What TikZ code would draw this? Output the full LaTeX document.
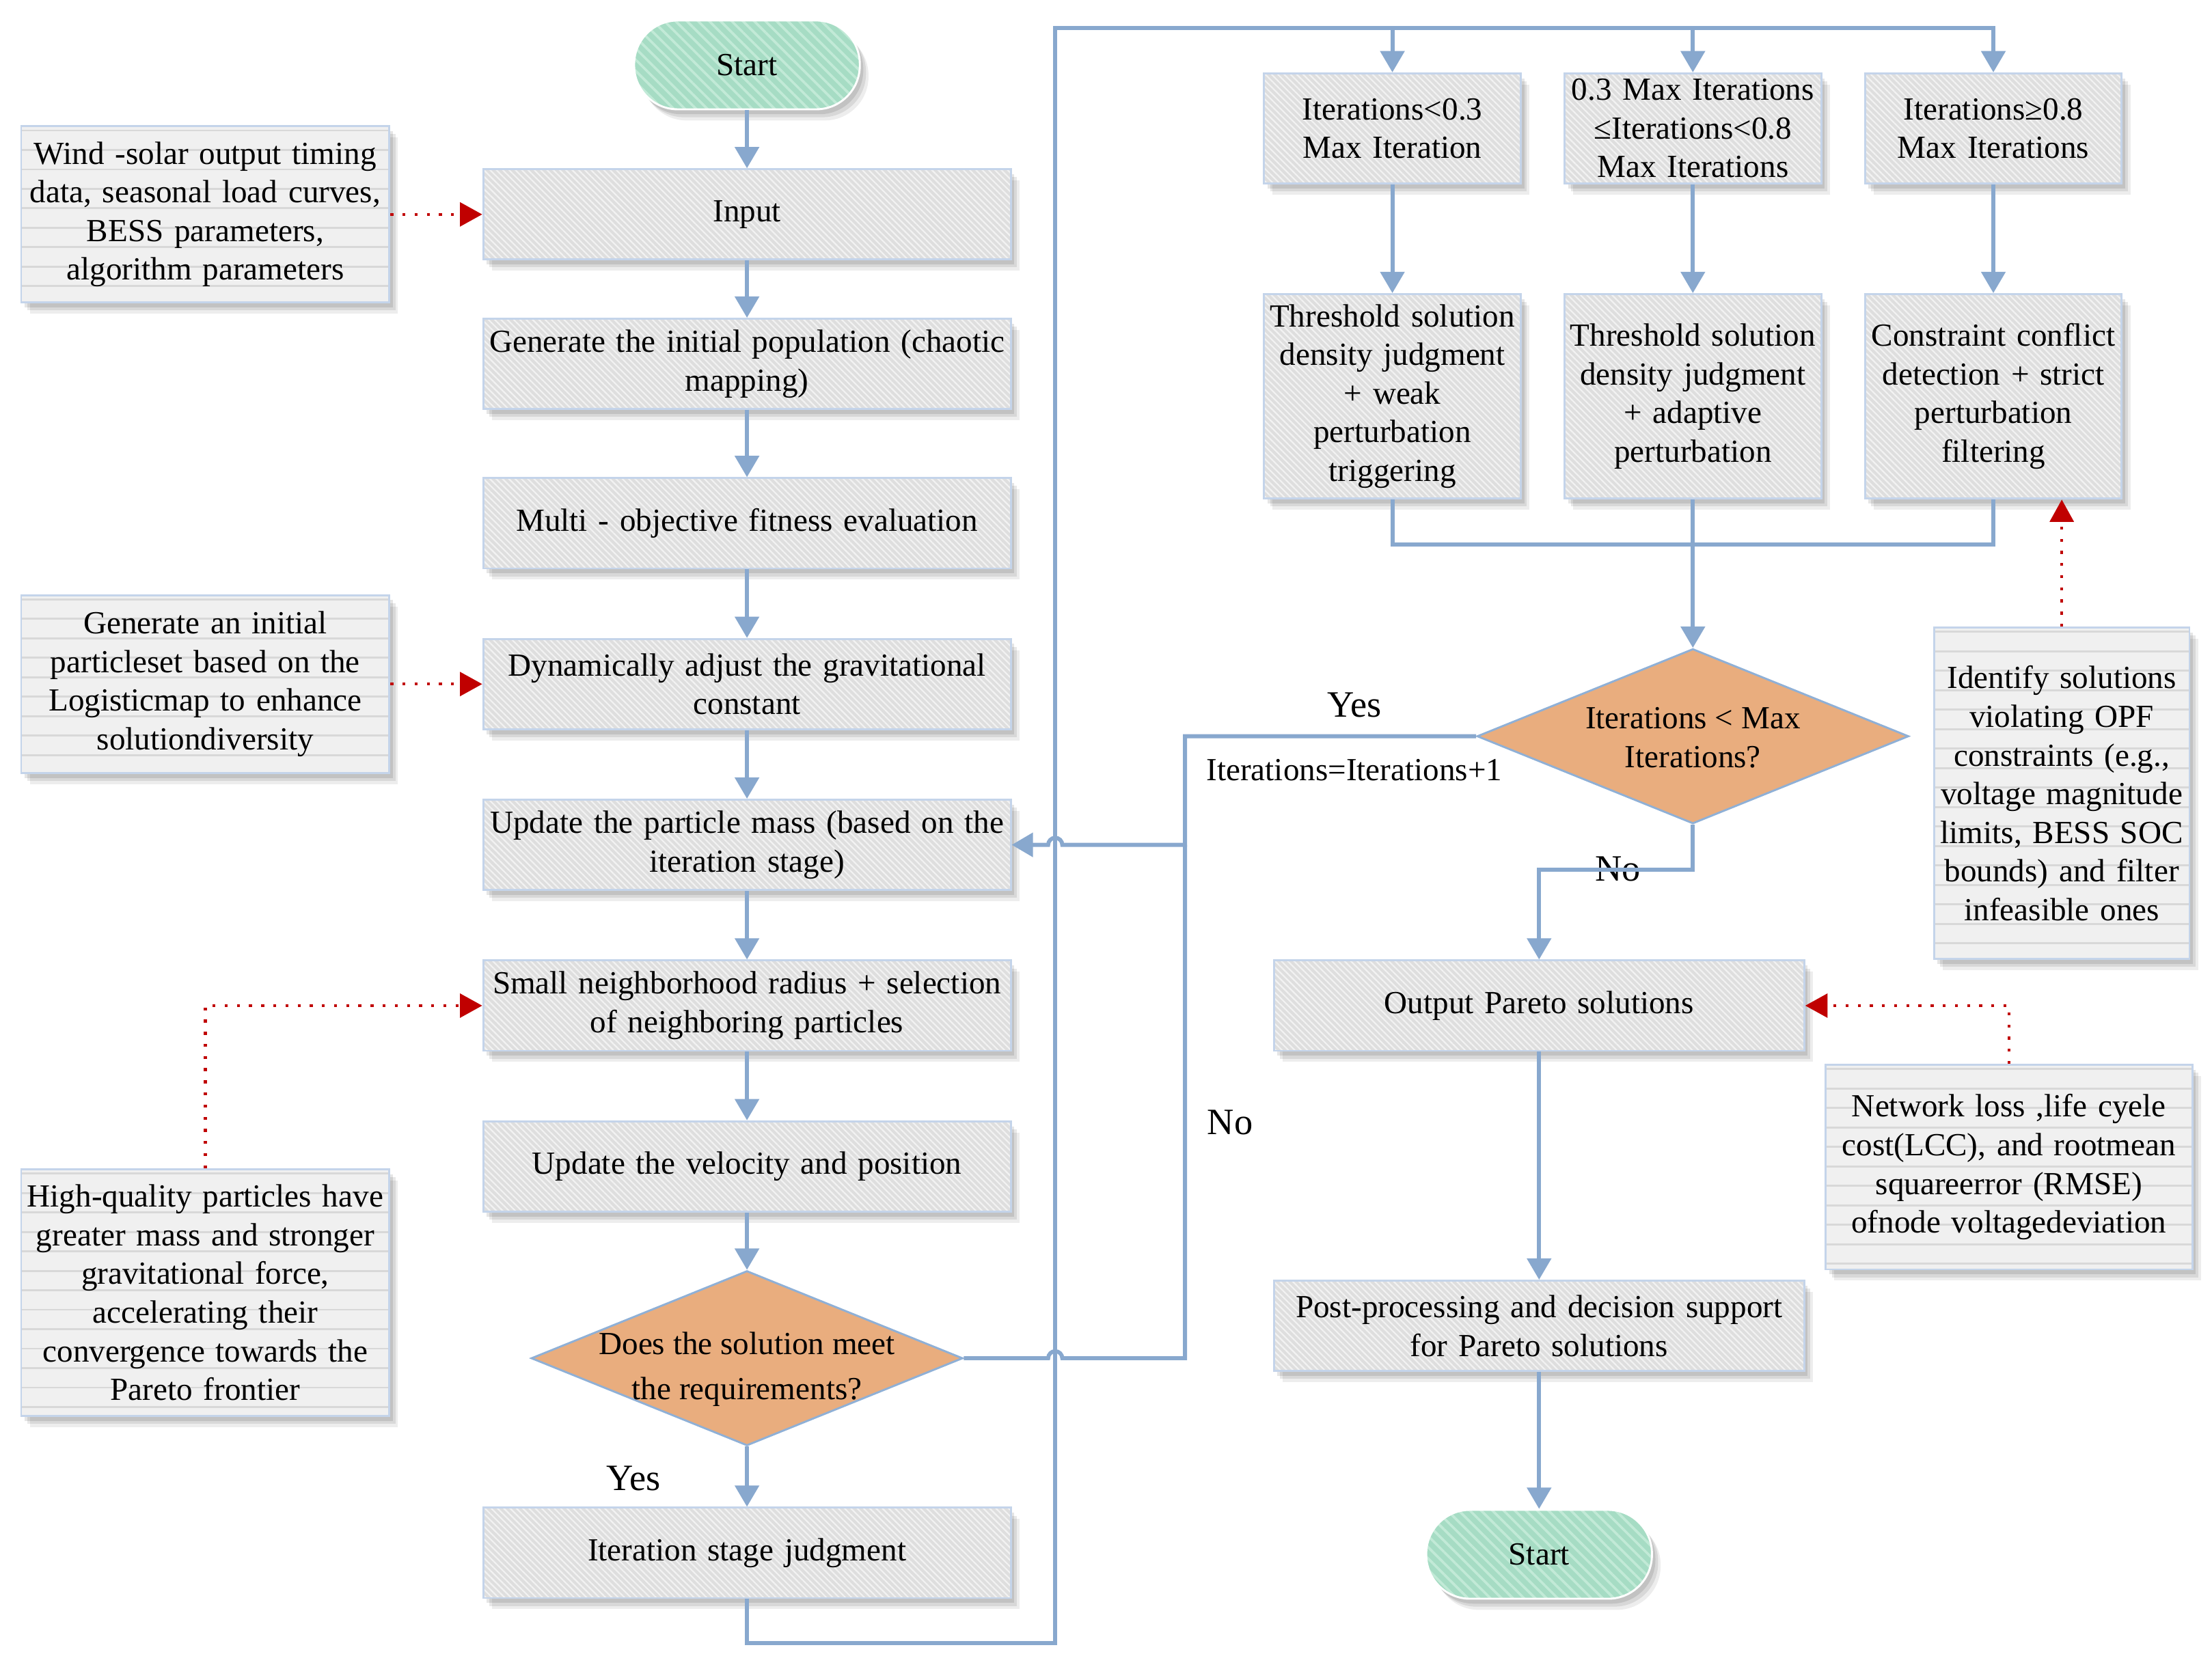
\documentclass[tikz,border=0pt]{standalone}
\usepackage{fontspec}
\setmainfont{Liberation Serif}
\usetikzlibrary{arrows.meta,shapes.geometric,shadows,patterns.meta,calc}
\definecolor{linecol}{RGB}{136,168,206}
\definecolor{bordercol}{RGB}{196,212,234}
\definecolor{boxfill}{RGB}{222,222,222}
\definecolor{boxstripe}{RGB}{242,242,242}
\definecolor{diafill}{RGB}{233,173,126}
\definecolor{diaborder}{RGB}{143,176,214}
\definecolor{termfill}{RGB}{166,220,196}
\definecolor{termstripe}{RGB}{194,234,215}
\definecolor{notefill}{RGB}{240,240,240}
\definecolor{noteline}{RGB}{216,216,216}
\definecolor{redcol}{RGB}{192,0,0}
\tikzset{
  txt/.style={font=\fontsize{13}{15.6}\selectfont, align=center},
  lbl/.style={font=\fontsize{15}{18}\selectfont, inner sep=0pt},
  shadowed/.style={
    drop shadow={shadow xshift=3.5pt,shadow yshift=-4.5pt,opacity=0.07,fill=black},
    drop shadow={shadow xshift=2.5pt,shadow yshift=-3.2pt,opacity=0.09,fill=black},
    drop shadow={shadow xshift=1.4pt,shadow yshift=-2pt,opacity=0.1,fill=black}},
  proc/.style={txt, shadowed, preaction={fill=boxfill},
    pattern={Lines[angle=-45,distance=1.8pt,line width=0.6pt]}, pattern color=boxstripe,
    draw=bordercol, line width=0.8pt, minimum width=7.48cm, minimum height=1.28cm,
    text width=7.4cm, inner sep=0pt},
  term/.style={txt, shadowed, rounded corners=0.62cm, preaction={fill=termfill},
    pattern={Lines[angle=-45,distance=3.2pt,line width=1pt]}, pattern color=termstripe,
    draw=white, line width=0.8pt, minimum width=3.2cm, minimum height=1.26cm, inner sep=0pt},
  dia/.style={diamond, draw=diaborder, line width=0.8pt, fill=diafill, minimum width=6.12cm,
    minimum height=2.48cm, inner sep=0pt, aspect=2.47},
  notebox/.style={txt, shadowed, fill=notefill, draw=bordercol, line width=0.8pt, inner sep=0pt,
    path picture={\foreach \k in {0,...,17}{\draw[noteline,line width=0.8pt]
      ([yshift=-0.06cm-\k*0.276cm]path picture bounding box.north west) --
      ([yshift=-0.06cm-\k*0.276cm]path picture bounding box.north east);}}},
  flow/.style={draw=linecol, line width=1.6pt, -{Triangle[length=8.6pt,width=9.6pt]}},
  plain/.style={draw=linecol, line width=1.6pt},
  redarrow/.style={draw=redcol, line width=1.2pt, dash pattern=on 1.2pt off 3.7pt,
    -{Triangle[length=9pt,width=9.6pt]}},
}
\begin{document}
\begin{tikzpicture}[x=0.02cm,y=-0.02cm]
\useasboundingbox (0,0) rectangle (1568,1181.9);
% left column
\node[term] (start) at (529.5,46) {Start};
\node[proc] (input) at (529.5,152) {Input};
\node[proc] (gip) at (529.5,258) {Generate the initial population (chaotic\\mapping)};
\node[proc] (mof) at (529.5,371) {Multi - objective fitness evaluation};
\node[proc] (dyn) at (529.5,485) {Dynamically adjust the gravitational\\constant};
\node[proc] (upm) at (529.5,599) {Update the particle mass (based on the\\iteration stage)};
\node[proc] (snr) at (529.5,713) {Small neighborhood radius + selection\\of neighboring particles};
\node[proc] (uvp) at (529.5,827) {Update the velocity and position};
\node[dia] (d1) at (529.5,963) {};
\node[txt, font=\fontsize{13}{18.2}\selectfont] (d1t) at (529.5,971) {Does the solution meet\\the requirements?};
\node[proc] (isj) at (529.5,1101) {Iteration stage judgment};
% right top
\node[proc, minimum width=3.64cm, minimum height=1.56cm, text width=3.6cm] (a1) at (987,91) {Iterations<0.3\\Max Iteration};
\node[proc, minimum width=3.64cm, minimum height=1.56cm, text width=3.6cm] (b1) at (1200,91) {0.3 Max Iterations\\≤Iterations<0.8\\Max Iterations};
\node[proc, minimum width=3.64cm, minimum height=1.56cm, text width=3.6cm] (c1) at (1413,91) {Iterations≥0.8\\Max Iterations};
\node[proc, minimum width=3.64cm, minimum height=2.9cm, text width=3.6cm] (a2) at (987,281) {Threshold solution\\density judgment\\+ weak\\perturbation\\triggering};
\node[proc, minimum width=3.64cm, minimum height=2.9cm, text width=3.6cm] (b2) at (1200,281) {Threshold solution\\density judgment\\+ adaptive\\perturbation};
\node[proc, minimum width=3.64cm, minimum height=2.9cm, text width=3.6cm] (c2) at (1413,281) {Constraint conflict\\detection + strict\\perturbation\\filtering};
\node[dia] (d2) at (1200,522) {};
\node[txt] (d2t) at (1200,523) {Iterations < Max\\Iterations?};
\node[proc, minimum width=7.52cm] (ops) at (1091,713) {Output Pareto solutions};
\node[proc, minimum width=7.52cm] (pp) at (1091,940) {Post-processing and decision support\\for Pareto solutions};
\node[term] (end) at (1091,1102) {Start};
% notes
\node[notebox, minimum width=5.22cm, minimum height=2.5cm, text width=5.2cm] (n1) at (145.5,152) {Wind -solar output timing\\data, seasonal load curves,\\BESS parameters,\\algorithm parameters};
\node[notebox, minimum width=5.22cm, minimum height=2.52cm, text width=5.2cm] (n2) at (145.5,485) {Generate an initial\\particleset based on the\\Logisticmap to enhance\\solutiondiversity};
\node[notebox, minimum width=5.22cm, minimum height=3.5cm, text width=5.2cm] (n3) at (145.5,916.5) {High-quality particles have\\greater mass and stronger\\gravitational force,\\accelerating their\\convergence towards the\\Pareto frontier};
\node[notebox, minimum width=3.62cm, minimum height=4.7cm, text width=3.6cm] (n4) at (1461.5,562.5) {Identify solutions\\violating OPF\\constraints (e.g.,\\voltage magnitude\\limits, BESS SOC\\bounds) and filter\\infeasible ones};
\node[notebox, minimum width=5.2cm, minimum height=2.9cm, text width=5.2cm] (n5) at (1424,827.5) {Network loss ,life cyele\\cost(LCC), and rootmean\\squareerror (RMSE)\\ofnode voltagedeviation};
% labels
\node[lbl] (yes2) at (960,500) {Yes};
\node[txt, inner sep=0pt] (incr) at (960,546) {Iterations=Iterations+1};
\node[lbl] (no1) at (872,796) {No};
\node[lbl] (yes1) at (449,1048) {Yes};
\node[lbl] (no2) at (1147,616) {No};
% main flow
\draw[flow] (start) -- (input);
\draw[flow] (input) -- (gip);
\draw[flow] (gip) -- (mof);
\draw[flow] (mof) -- (dyn);
\draw[flow] (dyn) -- (upm);
\draw[flow] (upm) -- (snr);
\draw[flow] (snr) -- (uvp);
\draw[flow] (uvp) -- (d1.north);
\draw[flow] (d1.south) -- (isj);
% top bus
\coordinate (bus) at (748,20);
\draw[flow] (isj.south) -- (529.5,1165) -| (bus) -| (c1.north);
\draw[flow] (bus -| a1.north) -- (a1.north);
\draw[flow] (bus -| b1.north) -- (b1.north);
\draw[flow] (a1) -- (a2);
\draw[flow] (b1) -- (b2);
\draw[flow] (c1) -- (c2);
\draw[plain] (a2.south) -- ++(0,32) -| (c2.south);
\draw[flow] (b2.south) -- (d2.north);
\draw[flow] (d2.south) -- ++(0,32) -| (ops.north);
\draw[flow] (ops) -- (pp);
\draw[flow] (pp) -- (end);
% loop back
\draw[flow] (d2.west) -- (840,522) -- (840,599) -- (753,599) arc[start angle=0,end angle=180,radius=0.1cm] -- (upm.east);
\draw[plain] (d1.east) -- (743,963) arc[start angle=180,end angle=0,radius=0.1cm] -- (840,963) -- (840,599);
% red notes
\draw[redarrow] (n1.east) -- (input.west);
\draw[redarrow] (n2.east) -- (dyn.west);
\draw[redarrow] (n3.north) |- (snr.west);
\draw[redarrow] (n4.north) -- (n4.north |- c2.south);
\draw[redarrow] (n5.north) |- (ops.east);
\end{tikzpicture}
\end{document}
